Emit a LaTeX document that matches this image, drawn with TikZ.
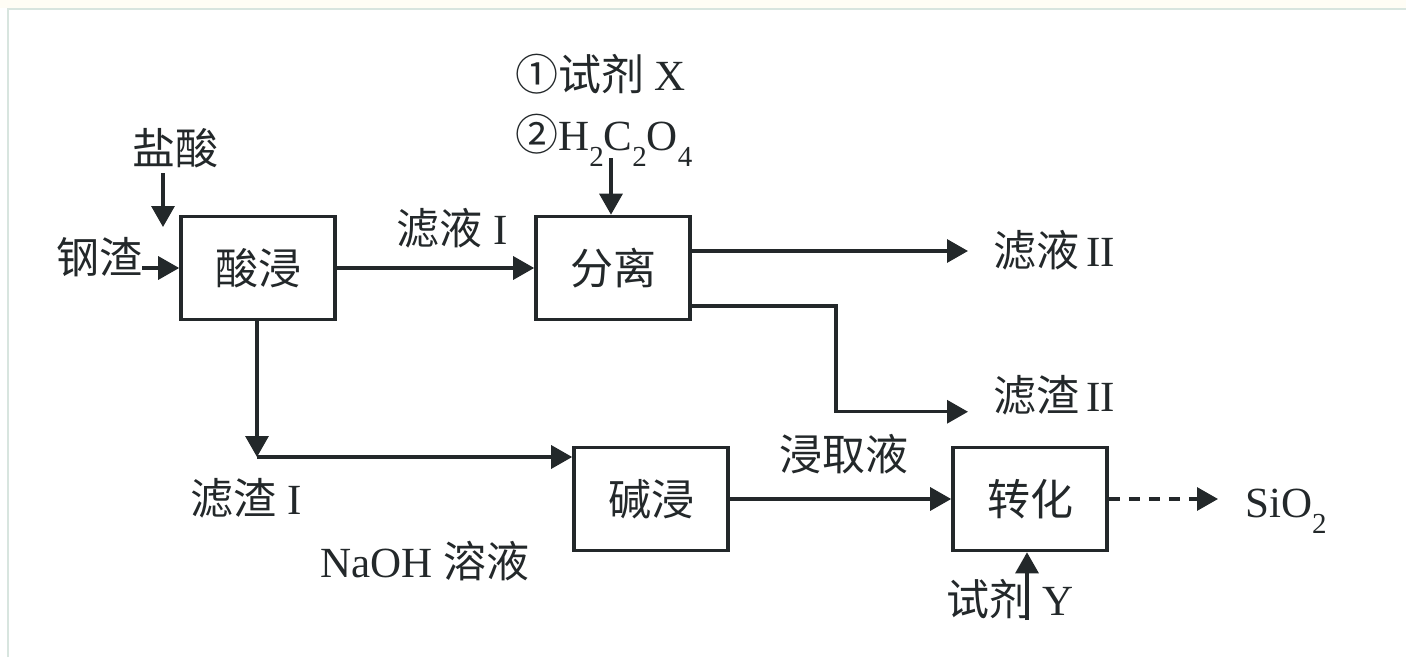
\documentclass[tikz,border=0pt]{standalone}
\usepackage{fontspec}
\setmainfont{Liberation Serif}
\newfontfamily\cjk{Noto Sans CJK SC}
\usetikzlibrary{arrows.meta}
\definecolor{ink}{RGB}{35,40,42}
\definecolor{frameline}{RGB}{216,229,223}
\definecolor{topband}{RGB}{255,253,245}
\newcommand\chemsub[1]{\raisebox{-0.38em}{\fontsize{29}{29}\selectfont #1}}
\begin{document}
\begin{tikzpicture}[x=1pt,y=-1pt,
  proc/.style={draw=ink, line width=3.6pt, minimum width=154pt, minimum height=103pt,
    inner sep=0pt, font=\cjk\fontsize{43}{43}\selectfont, text=ink},
  lab/.style={inner sep=0pt, font=\fontsize{43}{43}\selectfont, text=ink},
  flow/.style={draw=ink, line width=3.2pt, -{Triangle[length=21pt,width=23pt]}},
  plain/.style={draw=ink, line width=3.2pt}]
\useasboundingbox (0,0) rectangle (1406,657);
\fill[topband] (0,0) rectangle (1406,8);
\draw[frameline, line width=2pt] (7.5,657) -- (7.5,8.5) -- (1406,8.5);

% process boxes
\node[proc] (acid) at (258,268) {酸浸};
\node[proc] (sep)  at (613,268) {分离};
\node[proc] (alk)  at (651,499) {碱浸};
\node[proc] (conv) at (1030,499) {转化};

% labels
\node[lab] (hcl)  at (175,148) {\cjk 盐酸};
\node[lab] (slag) at (99,257) {\cjk 钢渣};
\node[lab, anchor=base] (f1) at (452,244) {{\cjk 滤液} I};
\node[lab, anchor=base west] (rx) at (515,90) {{\cjk ①试剂} X};
\node[lab, anchor=base west] (ox) at (515,150) {{\cjk ②}H\chemsub{2}C\chemsub{2}O\chemsub{4}};
\node[lab, anchor=base west] (f2) at (993,266) {{\cjk 滤液}\,II};
\node[lab, anchor=base west] (r2) at (993,411) {{\cjk 滤渣}\,II};
\node[lab, anchor=base] (r1) at (246,514) {{\cjk 滤渣} I};
\node[lab, anchor=base] (naoh) at (425,577) {NaOH {\cjk 溶液}};
\node[lab] (leach) at (844,454) {\cjk 浸取液};
\node[lab, anchor=base west] (sio) at (1245,517) {SiO\chemsub{2}};
\node[lab, anchor=base] (ry) at (1010,615) {{\cjk 试剂} Y};

% helper coordinates
\coordinate (hcltop) at (163,173);
\coordinate (hclend) at (163,227);
\coordinate (oxbot) at (611,158);
\coordinate (corner) at (257,457);
\coordinate (bend) at (836,306);
\coordinate (ystart) at (1027,620);

% connectors
\draw[flow] (hcltop) -- (hclend);
\draw[flow] (slag.east |- acid.west) -- (acid.west);
\draw[flow] (acid) -- (sep);
\draw[flow] (oxbot) -- (oxbot |- sep.north);
\draw[flow, shorten >=25pt] ([yshift=17pt]sep.east) -- ([yshift=17pt]sep.east -| f2.west);
\draw[flow, shorten >=25pt] ([yshift=-38pt]sep.east) -- (bend) |- ([yshift=-17pt]r2.west);
\draw[flow] (acid.south -| corner) -- (corner);
\draw[flow] (corner) -- (corner -| alk.west);
\draw[flow] (alk) -- (conv);
\draw[flow, dash pattern=on 11pt off 9pt, shorten >=27pt] (conv.east) -- (conv.east -| sio.west);
\draw[flow] (ystart) -- (ystart |- conv.south);
\end{tikzpicture}
\end{document}
